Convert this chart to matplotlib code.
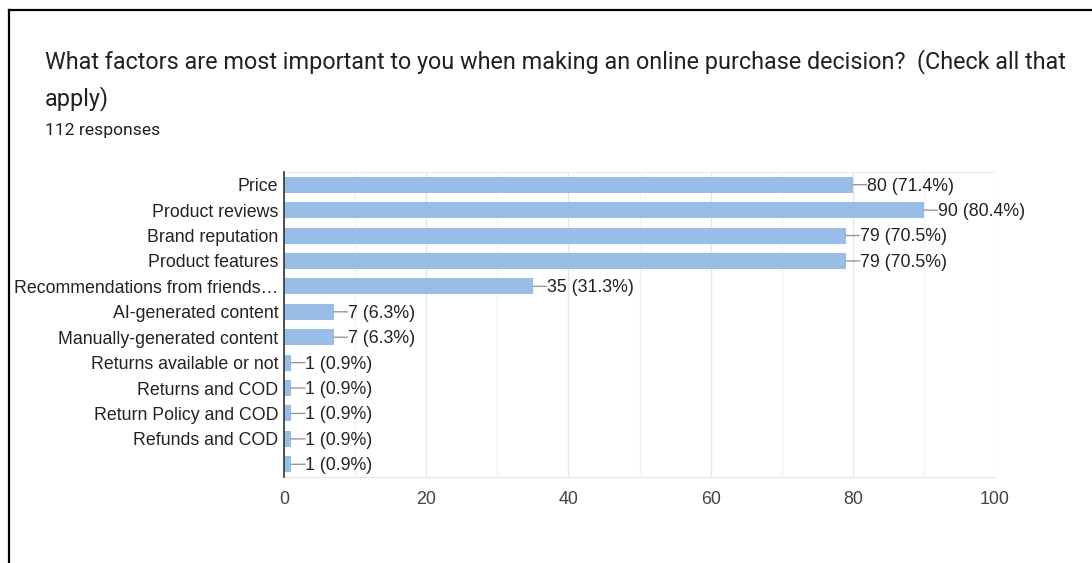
import matplotlib
matplotlib.use("Agg")
import matplotlib.pyplot as plt
from matplotlib.lines import Line2D

categories = [
    "Price",
    "Product reviews",
    "Brand reputation",
    "Product features",
    "Recommendations from friends…",
    "AI-generated content",
    "Manually-generated content",
    "Returns available or not",
    "Returns and COD",
    "Return Policy and COD",
    "Refunds and COD",
    "",
]
counts = [80, 90, 79, 79, 35, 7, 7, 1, 1, 1, 1, 1]
percents = [71.4, 80.4, 70.5, 70.5, 31.3, 6.3, 6.3, 0.9, 0.9, 0.9, 0.9, 0.9]
x_ticks = [0, 20, 40, 60, 80, 100]

title_lines = ["What factors are most important to you when making an online purchase decision?  (Check all that",
               "apply)"]
subtitle = "112 responses"

W, H = 1092, 563
fig = plt.figure(figsize=(W / 100, H / 100), dpi=100)
fig.patch.set_facecolor("white")

# frame of the card (top and left edges)
fig.add_artist(Line2D([8.5 / W, 8.5 / W], [0, 1 - 9.5 / H], color="black", lw=1.6))
fig.add_artist(Line2D([8.5 / W, 1], [1 - 9.5 / H, 1 - 9.5 / H], color="black", lw=1.6))

fig.text(45 / W, 1 - 62 / H, title_lines[0], fontsize=16.85, family="Roboto",
         color="#202124", va="center", ha="left")
fig.text(45 / W, 1 - 99 / H, title_lines[1], fontsize=16.85, family="Roboto",
         color="#202124", va="center", ha="left")
fig.text(45 / W, 1 - 130 / H, subtitle, fontsize=12.6, family="Roboto",
         color="#202124", va="center", ha="left")

left, right = 284, 995
top, bottom = 172, 477
ax = fig.add_axes([left / W, 1 - bottom / H, (right - left) / W, (bottom - top) / H])

label_font = dict(family="Liberation Sans", fontsize=12.8)

pos = list(range(len(categories)))
ax.barh(pos, counts, height=0.63, color="#98bde6", zorder=3)
ax.set_ylim(len(categories) - 0.5, -0.5)
ax.set_xlim(0, 100)
ax.set_yticks(pos)
ax.set_yticklabels(categories, color="#222222", **label_font)
ax.set_xticks(x_ticks)
ax.set_xticklabels([str(t) for t in x_ticks], color="#444444", **label_font)
ax.set_xticks(list(range(10, 100, 20)), minor=True)
ax.tick_params(axis="both", which="both", length=0)
ax.tick_params(axis="y", pad=4)
ax.tick_params(axis="x", pad=10)

ax.grid(axis="x", which="major", color="#e6e6e6", lw=1, zorder=0)
ax.grid(axis="x", which="minor", color="#f2f2f2", lw=1, zorder=0)
ax.axhline(-0.5, color="#ececec", lw=1, zorder=1)

for s in ["top", "right"]:
    ax.spines[s].set_visible(False)
ax.spines["bottom"].set_color("#e6e6e6")
ax.spines["left"].set_color("#333333")
ax.spines["left"].set_linewidth(1.2)
ax.spines["left"].set_zorder(5)

for i, (c, p) in enumerate(zip(counts, percents)):
    # short horizontal leader from the bar end to the value label
    ax.annotate("", xy=(c, i), xytext=(10, 0), textcoords="offset points",
                arrowprops=dict(arrowstyle="-", color="#999999", lw=1, shrinkA=0, shrinkB=0),
                zorder=4)
    ax.annotate(f"{c} ({p}%)", xy=(c, i), xytext=(10.3, -1), textcoords="offset points",
                ha="left", va="center", color="#222222", zorder=4, **label_font)

fig.savefig("out.png", dpi=100)
